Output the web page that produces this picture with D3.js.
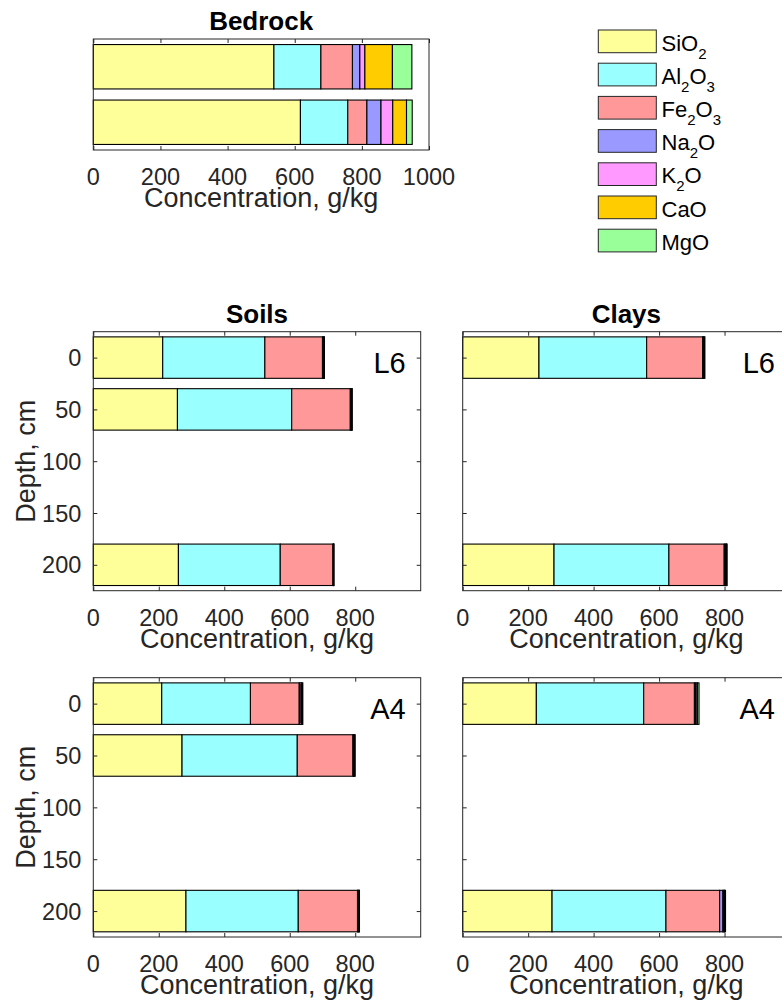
<!DOCTYPE html>
<html>
<head>
<meta charset="utf-8">
<script src="https://cdn.jsdelivr.net/npm/d3@7"></script>
<style>
  body { margin: 0; background: #fff; }
  svg { display: block; }
  text { font-family: "Liberation Sans", Arial, Helvetica, sans-serif; }
</style>
</head>
<body>
<svg id="chart" width="782" height="1006"></svg>
<script>
// Oxide components, stacked left to right inside every bar
const oxides = ["SiO2", "Al2O3", "Fe2O3", "Na2O", "K2O", "CaO", "MgO"];
const oxideLabels = ["SiO_2", "Al_2O_3", "Fe_2O_3", "Na_2O", "K_2O", "CaO", "MgO"];
const oxideColors = ["#ffff99", "#99ffff", "#ff9999", "#9999ff", "#ff99ff", "#ffcc00", "#99ff99"];

// Bedrock samples, g/kg (one inner array per oxide, one entry per sample row)
const bedrockRows = [1, 2];
const bedrock = [
  [538, 617],   // SiO2
  [140, 141],   // Al2O3
  [94, 57],     // Fe2O3
  [22, 42],     // Na2O
  [15, 35],     // K2O
  [82, 41],     // CaO
  [58, 17]      // MgO
];

// Sampling depths, cm
const soilDepths = [0, 50, 200];
const clayDepths = [0, 200];

// Profile L6, g/kg (one inner array per oxide, one entry per depth)
const soilsL6 = [
  [212, 257, 260],
  [312, 349, 311],
  [176, 179, 161],
  [2, 2, 1],
  [2, 2, 1],
  [1, 1, 0.5],
  [1, 1, 0.5]
];
const claysL6 = [
  [233, 279],
  [329, 351],
  [171, 169],
  [2, 3],
  [2, 3],
  [1, 1],
  [2, 2]
];

// Profile A4, g/kg
const soilsA4 = [
  [209, 271, 283],
  [271, 352, 343],
  [149, 170, 181],
  [3, 2, 2],
  [4, 2, 2],
  [2, 1, 1],
  [2, 2, 1]
];
const claysA4 = [
  [225, 273],
  [328, 348],
  [155, 164],
  [3, 10],
  [5, 3],
  [1, 2],
  [5, 3]
];

// Tick values
const bedrockTicks = [0, 200, 400, 600, 800, 1000];
const concTicks = [0, 200, 400, 600, 800];
const depthTicks = [0, 50, 100, 150, 200];

const svg = d3.select("#chart");
const AXIS = "#262626";
const TICK_FS = 23.5, LABEL_FS = 27, TITLE_FS = 26, TAG_FS = 29;

function addText(g, str, x, y, o = {}) {
  return g.append("text")
    .attr("x", x).attr("y", y)
    .attr("text-anchor", o.anchor || "middle")
    .attr("font-size", o.size || TICK_FS)
    .attr("font-weight", o.weight || "normal")
    .attr("fill", o.color || AXIS)
    .text(str);
}

function panel(o) {
  const g = svg.append("g");
  const x = d3.scaleLinear().domain(o.xDomain).range([o.x0, o.x1]);
  const y = d3.scaleLinear().domain(o.yDomain).range([o.y0, o.y1]);

  // stacked horizontal bars
  const rows = o.cats.map((c, i) => {
    const r = { cat: c };
    oxides.forEach((k, j) => { r[k] = o.values[j][i]; });
    return r;
  });
  const series = d3.stack().keys(oxides)(rows);
  series.forEach((s, j) => {
    g.append("g").selectAll("rect").data(s).join("rect")
      .attr("x", d => x(d[0]))
      .attr("width", d => x(d[1]) - x(d[0]))
      .attr("y", d => y(d.data.cat - o.half))
      .attr("height", d => y(d.data.cat + o.half) - y(d.data.cat - o.half))
      .attr("fill", oxideColors[j])
      .attr("stroke", "#000")
      .attr("stroke-width", 1.1);
  });

  // inward ticks on all four sides
  const tickLen = 4;
  const styleAxis = a => {
    a.select(".domain").remove();
    a.selectAll("line").attr("stroke", AXIS);
    a.selectAll("text").remove();
  };
  g.append("g").attr("transform", `translate(0,${o.y1})`)
    .call(d3.axisBottom(x).tickValues(o.xTicks).tickSize(-tickLen)).call(styleAxis);
  g.append("g").attr("transform", `translate(0,${o.y0})`)
    .call(d3.axisTop(x).tickValues(o.xTicks).tickSize(-tickLen)).call(styleAxis);
  if (o.yTicks.length) {
    g.append("g").attr("transform", `translate(${o.x0},0)`)
      .call(d3.axisLeft(y).tickValues(o.yTicks).tickSize(-tickLen)).call(styleAxis);
    g.append("g").attr("transform", `translate(${o.x1},0)`)
      .call(d3.axisRight(y).tickValues(o.yTicks).tickSize(-tickLen)).call(styleAxis);
  }

  // axes box
  g.append("rect")
    .attr("x", o.x0).attr("y", o.y0)
    .attr("width", o.x1 - o.x0).attr("height", o.y1 - o.y0)
    .attr("fill", "none").attr("stroke", AXIS).attr("stroke-width", 1);

  // tick labels
  o.xTicks.forEach(t => addText(g, String(t), x(t), o.y1 + 35));
  if (o.yLabels) {
    o.yTicks.forEach(t => addText(g, String(t), o.x0 - 12, y(t) + 8.5, { anchor: "end" }));
  }

  // axis titles
  addText(g, "Concentration, g/kg", (o.x0 + o.x1) / 2, o.y1 + 57, { size: LABEL_FS });
  if (o.yTitle) {
    g.append("text")
      .attr("transform", `translate(35,${(o.y0 + o.y1) / 2}) rotate(-90)`)
      .attr("text-anchor", "middle")
      .attr("font-size", LABEL_FS)
      .attr("fill", AXIS)
      .text(o.yTitle);
  }
  if (o.title) {
    addText(g, o.title, (o.x0 + o.x1) / 2, o.y0 - 9, { size: TITLE_FS, weight: "bold", color: "#000" });
  }
  if (o.tag) {
    addText(g, o.tag, o.x1 - 15, o.y0 + 41, { size: TAG_FS, anchor: "end", color: "#000" });
  }
}

// Bedrock
panel({
  x0: 93.3, x1: 429, y0: 39, y1: 150,
  xDomain: [0, 1000], yDomain: [0.5, 2.5],
  cats: bedrockRows, half: 0.4, values: bedrock,
  xTicks: bedrockTicks, yTicks: [],
  title: "Bedrock"
});

// Profile L6
const rowL6 = { y0: 331.7, y1: 590.7 };
panel({
  x0: 93.3, x1: 420.7, ...rowL6,
  xDomain: [0, 1000], yDomain: [-25, 225],
  cats: soilDepths, half: 20, values: soilsL6,
  xTicks: concTicks, yTicks: depthTicks, yLabels: true,
  yTitle: "Depth, cm", title: "Soils", tag: "L6"
});
panel({
  x0: 462.7, x1: 790, ...rowL6,
  xDomain: [0, 1000], yDomain: [-25, 225],
  cats: clayDepths, half: 20, values: claysL6,
  xTicks: concTicks, yTicks: depthTicks, yLabels: false,
  title: "Clays", tag: "L6"
});

// Profile A4
const rowA4 = { y0: 677.7, y1: 937 };
panel({
  x0: 93.3, x1: 420.7, ...rowA4,
  xDomain: [0, 1000], yDomain: [-25, 225],
  cats: soilDepths, half: 20, values: soilsA4,
  xTicks: concTicks, yTicks: depthTicks, yLabels: true,
  yTitle: "Depth, cm", tag: "A4"
});
panel({
  x0: 462.7, x1: 790, ...rowA4,
  xDomain: [0, 1000], yDomain: [-25, 225],
  cats: clayDepths, half: 20, values: claysA4,
  xTicks: concTicks, yTicks: depthTicks, yLabels: false,
  tag: "A4"
});

// Legend (no frame), chemical formulas with subscripts
const legend = svg.append("g");
const legStep = 33.2;
oxideLabels.forEach((lab, i) => {
  const top = 30 + i * legStep;
  legend.append("rect")
    .attr("x", 598.3).attr("y", top)
    .attr("width", 58).attr("height", 22.7)
    .attr("fill", oxideColors[i])
    .attr("stroke", AXIS).attr("stroke-width", 1);
  const t = legend.append("text")
    .attr("x", 661.5).attr("y", top + 20.5)
    .attr("font-size", 22).attr("fill", "#000");
  const parts = lab.split(/(_\d)/).filter(p => p.length);
  let shifted = false;
  parts.forEach(p => {
    if (p.startsWith("_")) {
      t.append("tspan").attr("font-size", 15).attr("dy", shifted ? 0 : 8).text(p.slice(1));
      shifted = true;
    } else {
      t.append("tspan").attr("dy", shifted ? -8 : 0).text(p);
      shifted = false;
    }
  });
});
</script>
</body>
</html>
